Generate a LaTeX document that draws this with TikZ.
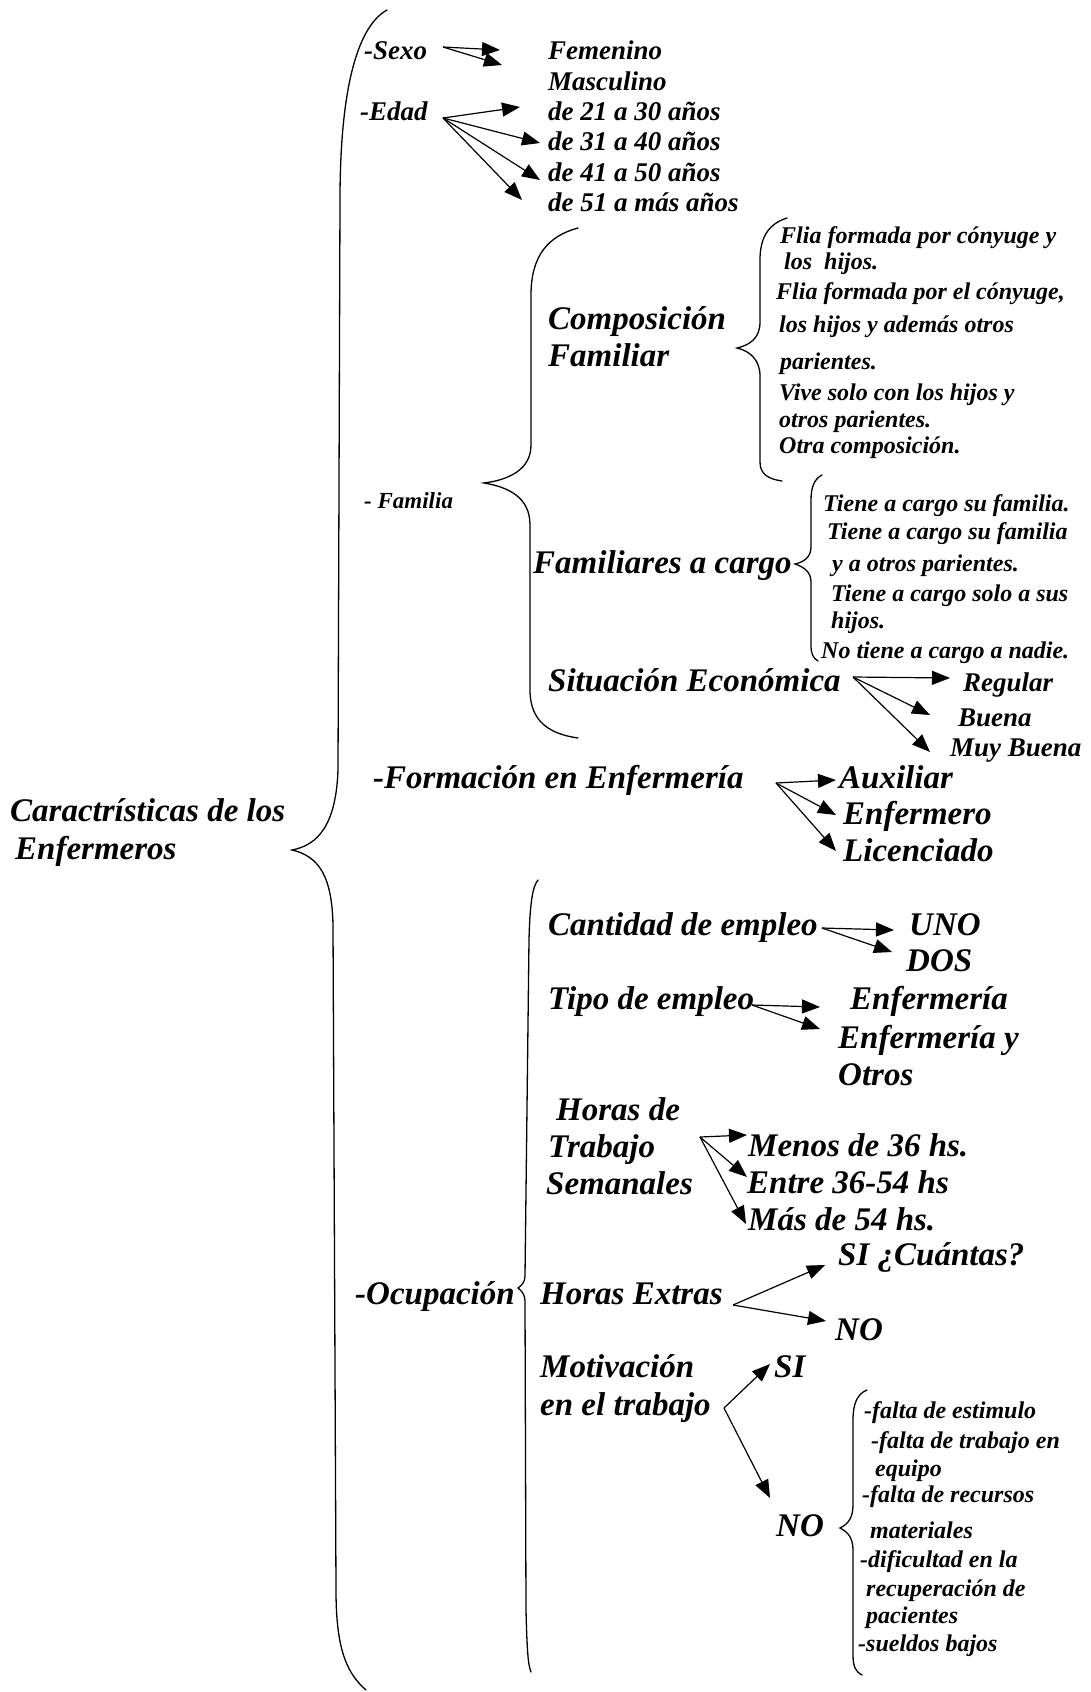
\documentclass[tikz,border=0pt]{standalone}
\usepackage{fontspec}
\setmainfont{Liberation Serif}
\usetikzlibrary{arrows.meta}

\begin{document}
\begin{tikzpicture}[x=1pt, y=-1pt,
    every node/.style={inner sep=0pt, anchor=mid west},
    bigtxt/.style={yshift=-7pt, font=\bfseries\itshape\fontsize{33}{38}\selectfont},
    sittxt/.style={yshift=-7pt, font=\bfseries\itshape\fontsize{27}{31}\selectfont},
    midtxt/.style={yshift=-7pt, font=\bfseries\itshape\fontsize{27}{31}\selectfont},
    smalltxt/.style={yshift=-6pt, font=\bfseries\itshape\fontsize{24}{28}\selectfont},
    arr/.style={line width=1.2pt, -{Triangle[length=18pt, width=14pt]}},
    bracepath/.style={line width=1.3pt, line cap=round}]

\useasboundingbox (0,0) rectangle (1090,1692);

    % main brace
    \draw[bracepath] (387,10) .. controls (360,25) and (340,80) .. (340,200) -- (338,770) .. controls (336,825) and (318,845) .. (292,850) .. controls (318,856) and (332,875) .. (333,925) -- (336,1590) .. controls (336,1645) and (345,1672) .. (366,1690);

    \node[bigtxt] (root) at (10,812) {Caractrísticas de los};
    \node[bigtxt] (rootb) at (15,850) {Enfermeros};


    % sexo y edad
    \node[midtxt] (sexo) at (364,50) {-Sexo};
    \node[midtxt] (edad) at (360,111) {-Edad};
    \node[midtxt] (fem) at (548,50) {Femenino};
    \node[midtxt] (masc) at (548,81) {Masculino};
    \node[midtxt] (ed1) at (548,111) {de 21 a 30 años};
    \node[midtxt] (ed2) at (548,141) {de 31 a 40 años};
    \node[midtxt] (ed3) at (548,172) {de 41 a 50 años};
    \node[midtxt] (ed4) at (548,202) {de 51 a más años};

    \coordinate (sx) at (443,47);
    \coordinate (sx1) at (500,50);
    \coordinate (sx2) at (502,65);
    \coordinate (ed) at (443,118);
    \coordinate (ed1t) at (520,107);
    \coordinate (ed2t) at (540,143);
    \coordinate (ed3t) at (540,180);
    \coordinate (ed4t) at (522,200);

    \draw[arr] (sx) -- (sx1);
    \draw[arr] (sx) -- (sx2);
    \draw[arr] (ed) -- (ed1t);
    \draw[arr] (ed) -- (ed2t);
    \draw[arr] (ed) -- (ed3t);
    \draw[arr] (ed) -- (ed4t);


    % familia
    \node[smalltxt, font=\bfseries\itshape\fontsize{23}{27}\selectfont] (fam) at (364,500) {- Familia};
    \draw[bracepath] (578,228) .. controls (548,236) and (531,256) .. (531,295) -- (531,445) .. controls (531,470) and (508,480) .. (484,483) .. controls (508,487) and (530,497) .. (530,525) -- (530,690) .. controls (530,722) and (550,734) .. (578,738);

    \node[bigtxt] (comp) at (548,320) {Composición};
    \node[bigtxt] (compb) at (548,357) {Familiar};
    \draw[bracepath] (787,218) .. controls (768,224) and (760,238) .. (760,260) -- (760,322) .. controls (760,338) and (750,345) .. (737,348) .. controls (750,351) and (760,360) .. (760,376) -- (760,462) .. controls (760,474) and (768,479) .. (782,481);
    \node[smalltxt] (c1) at (780,235) {Flia formada por cónyuge y};
    \node[smalltxt] (c2) at (784,261) {los~ hijos.};
    \node[smalltxt] (c3) at (776,291) {Flia formada por el cónyuge,};
    \node[smalltxt] (c4) at (779,324) {los hijos y además otros};
    \node[smalltxt] (c5) at (780,361) {parientes.};
    \node[smalltxt] (c6) at (779,392) {Vive solo con los hijos y};
    \node[smalltxt] (c7) at (779,419) {otros parientes.};
    \node[smalltxt] (c8) at (779,445) {Otra composición.};

    \node[bigtxt] (fcar) at (533,564) {Familiares a cargo};
    \draw[bracepath] (822,475) .. controls (814,479) and (811,488) .. (811,500) -- (811,547) .. controls (811,557) and (804,562) .. (795,564) .. controls (804,567) and (811,572) .. (811,582) -- (811,645) .. controls (811,654) and (813,658) .. (818,661);
    \node[smalltxt] (f1) at (823,503) {Tiene a cargo su familia.};
    \node[smalltxt] (f2) at (827,531) {Tiene a cargo su familia};
    \node[smalltxt] (f3) at (832,563) {y a otros parientes.};
    \node[smalltxt] (f4) at (831,593) {Tiene a cargo solo a sus};
    \node[smalltxt] (f5) at (831,620) {hijos.};
    \node[smalltxt] (f6) at (821,650) {No tiene a cargo a nadie.};

    \node[bigtxt] (sit) at (548,682) {Situación Económica};
    \node[sittxt] (reg) at (963,682) {Regular};
    \node[sittxt] (bue) at (958,717) {Buena};
    \node[sittxt] (muy) at (950,747) {Muy Buena};
    \coordinate (st) at (853,677);
    \coordinate (st1) at (950,678);
    \coordinate (st2) at (930,715);
    \coordinate (st3) at (930,752);
    \draw[arr] (st) -- (st1);
    \draw[arr] (st) -- (st2);
    \draw[arr] (st) -- (st3);


    % formacion
    \node[bigtxt] (form) at (373,779) {-Formación en Enfermería};
    \node[bigtxt] (aux) at (839,779) {Auxiliar};
    \node[bigtxt] (enf) at (843,815) {Enfermero};
    \node[bigtxt] (lic) at (843,852) {Licenciado};
    \coordinate (fo) at (776,783);
    \coordinate (fo1) at (836,780);
    \coordinate (fo2) at (836,815);
    \coordinate (fo3) at (836,851);
    \draw[arr] (fo) -- (fo1);
    \draw[arr] (fo) -- (fo2);
    \draw[arr] (fo) -- (fo3);


    % ocupacion
    \node[bigtxt] (ocup) at (355,1295) {-Ocupación};
    \draw[bracepath] (538,880) .. controls (533,886) and (530,900) .. (529,940) -- (525,1276) .. controls (525,1282) and (522,1285) .. (518,1288) .. controls (522,1291) and (525,1295) .. (525,1301) -- (526,1610) .. controls (527,1650) and (528,1665) .. (531,1672);

    \node[bigtxt] (cant) at (548,926) {Cantidad de empleo};
    \node[bigtxt] (uno) at (909,926) {UNO};
    \node[bigtxt] (dos) at (906,962) {DOS};
    \coordinate (ca) at (822,928);
    \coordinate (ca1) at (894,930);
    \coordinate (ca2) at (892,952);
    \draw[arr] (ca) -- (ca1);
    \draw[arr] (ca) -- (ca2);

    \node[bigtxt] (tipo) at (548,1000) {Tipo de empleo};
    \node[bigtxt] (ti1) at (850,1000) {Enfermería};
    \node[bigtxt] (ti2) at (838,1039) {Enfermería y};
    \node[bigtxt] (ti3) at (838,1076) {Otros};
    \coordinate (tp) at (752,1005);
    \coordinate (tp1) at (820,1007);
    \coordinate (tp2) at (820,1029);
    \draw[arr] (tp) -- (tp1);
    \draw[arr] (tp) -- (tp2);

    \node[bigtxt] (hor) at (556,1111) {Horas de};
    \node[bigtxt] (horb) at (548,1148) {Trabajo};
    \node[bigtxt] (horc) at (546,1185) {Semanales};
    \node[bigtxt] (h1) at (748,1147) {Menos de 36 hs.};
    \node[bigtxt] (h2) at (747,1184) {Entre 36-54 hs};
    \node[bigtxt] (h3) at (748,1221) {Más de 54 hs.};
    \coordinate (hs) at (700,1137);
    \coordinate (hs1) at (747,1135);
    \coordinate (hs2) at (747,1177);
    \coordinate (hs3) at (746,1224);
    \draw[arr] (hs) -- (hs1);
    \draw[arr] (hs) -- (hs2);
    \draw[arr] (hs) -- (hs3);

    \node[bigtxt] (hext) at (540,1295) {Horas Extras};
    \node[bigtxt] (hx1) at (838,1256) {SI ¿Cuántas?};
    \node[bigtxt] (hx2) at (835,1331) {NO};
    \coordinate (hx) at (733,1305);
    \coordinate (hxa) at (825,1265);
    \coordinate (hxb) at (826,1321);
    \draw[arr] (hx) -- (hxa);
    \draw[arr] (hx) -- (hxb);

    \node[bigtxt] (mot) at (540,1368) {Motivación};
    \node[bigtxt] (motb) at (540,1406) {en el trabajo};
    \node[bigtxt] (mo1) at (774,1368) {SI};
    \node[bigtxt] (mo2) at (776,1527) {NO};
    \coordinate (mo) at (724,1408);
    \coordinate (moa) at (770,1364);
    \coordinate (mob) at (770,1498);
    \draw[arr] (mo) -- (moa);
    \draw[arr] (mo) -- (mob);

    \draw[bracepath] (867,1390) .. controls (857,1394) and (853,1404) .. (853,1420) -- (853,1505) .. controls (853,1518) and (848,1524) .. (840,1528) .. controls (848,1532) and (853,1538) .. (853,1550) -- (853,1655) .. controls (853,1667) and (856,1672) .. (862,1675);
    \node[smalltxt] (n1) at (864,1410) {-falta de estimulo};
    \node[smalltxt] (n2) at (871,1440) {-falta de trabajo en};
    \node[smalltxt] (n3) at (875,1468) {equipo};
    \node[smalltxt] (n4) at (862,1494) {-falta de recursos};
    \node[smalltxt] (n5) at (870,1530) {materiales};
    \node[smalltxt] (n6) at (860,1559) {-dificultad en la};
    \node[smalltxt] (n7) at (866,1588) {recuperación de};
    \node[smalltxt] (n8) at (866,1615) {pacientes};
    \node[smalltxt] (n9) at (858,1643) {-sueldos bajos};

\end{tikzpicture}
\end{document}
